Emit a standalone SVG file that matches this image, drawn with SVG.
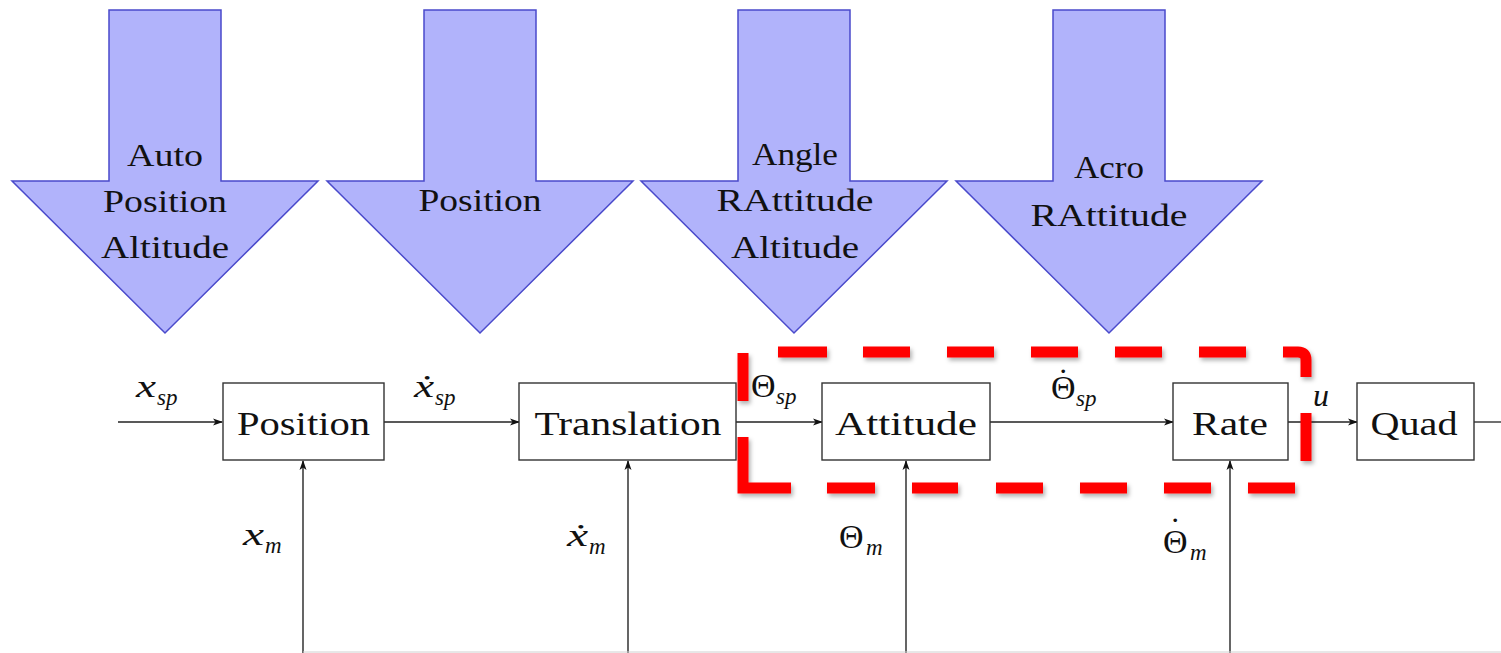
<svg xmlns="http://www.w3.org/2000/svg" width="1501" height="653" viewBox="0 0 1501 653">
<style>
.mode{fill:#b1b3fb;stroke:#4a4acb;stroke-width:1.5}
.mt{font-family:"Liberation Serif","Times New Roman",serif;font-size:31px;fill:#111;text-anchor:middle}
.box{fill:#fff;stroke:#333;stroke-width:1.4}
.bt{font-family:"Liberation Serif","Times New Roman",serif;font-size:34px;fill:#111;text-anchor:middle}
.conn{stroke:#222;stroke-width:1.3;fill:none}
.fb{stroke:#555;stroke-width:1.8;fill:none}
.mi{font-family:"Liberation Serif","Times New Roman",serif;font-style:italic;font-size:32px;fill:#111}
.mu{font-family:"Liberation Serif","Times New Roman",serif;font-size:34px;fill:#111}
.sub{font-family:"Liberation Serif","Times New Roman",serif;font-style:italic;font-size:23px;fill:#111}
.dash{stroke:#ff0000;stroke-width:11;fill:none;stroke-linecap:butt}
</style>
<defs>
<marker id="ah" markerWidth="10" markerHeight="8" refX="9" refY="4" orient="auto" markerUnits="userSpaceOnUse">
<path d="M0,0.5 L10,4 L0,7.5 L2.5,4 Z" fill="#111"/>
</marker>
<filter id="sh" x="-10%" y="-10%" width="120%" height="130%">
<feDropShadow dx="2" dy="3" stdDeviation="2" flood-color="#000" flood-opacity="0.3"/>
</filter>
</defs>

<g id="mode-auto">
<polygon class="mode" points="109,10 221,10 221,181 318,181 165,333 12,181 109,181"/>
<text class="mt" x="165" y="166" textLength="76" lengthAdjust="spacingAndGlyphs">Auto</text>
<text class="mt" x="165" y="212" textLength="124" lengthAdjust="spacingAndGlyphs">Position</text>
<text class="mt" x="165" y="258" textLength="128" lengthAdjust="spacingAndGlyphs">Altitude</text>
</g>
<g id="mode-position">
<polygon class="mode" points="424,10 536,10 536,181 633,181 480,333 327,181 424,181"/>
<text class="mt" x="480" y="211" textLength="123" lengthAdjust="spacingAndGlyphs">Position</text>
</g>
<g id="mode-angle">
<polygon class="mode" points="738,10 850,10 850,181 947,181 794,333 641,181 738,181"/>
<text class="mt" x="795" y="165" textLength="86" lengthAdjust="spacingAndGlyphs">Angle</text>
<text class="mt" x="795" y="211" textLength="157" lengthAdjust="spacingAndGlyphs">RAttitude</text>
<text class="mt" x="795" y="258" textLength="128" lengthAdjust="spacingAndGlyphs">Altitude</text>
</g>
<g id="mode-acro">
<polygon class="mode" points="1053,10 1165,10 1165,181 1262,181 1109,333 956,181 1053,181"/>
<text class="mt" x="1109" y="178" textLength="70" lengthAdjust="spacingAndGlyphs">Acro</text>
<text class="mt" x="1109" y="226" textLength="157" lengthAdjust="spacingAndGlyphs">RAttitude</text>
</g>

<g id="connectors">
<line class="conn" x1="118" y1="422" x2="222" y2="422" marker-end="url(#ah)"/>
<line class="conn" x1="384" y1="422" x2="519" y2="422" marker-end="url(#ah)"/>
<line class="conn" x1="736" y1="422" x2="822" y2="422" marker-end="url(#ah)"/>
<line class="conn" x1="990" y1="422" x2="1173" y2="422" marker-end="url(#ah)"/>
<line class="conn" x1="1288" y1="422" x2="1357" y2="422" marker-end="url(#ah)"/>
<line class="conn" x1="1474" y1="422" x2="1501" y2="422"/>
<line class="fb" x1="303" y1="653" x2="303" y2="461" marker-end="url(#ah)"/>
<line class="fb" x1="628" y1="653" x2="628" y2="461" marker-end="url(#ah)"/>
<line class="fb" x1="906" y1="653" x2="906" y2="461" marker-end="url(#ah)"/>
<line class="fb" x1="1230" y1="653" x2="1230" y2="461" marker-end="url(#ah)"/>
<line x1="303" y1="652" x2="1501" y2="652" stroke="#d0d0d0" stroke-width="1"/>
</g>

<g id="labels">
<text class="mi" x="136" y="397" textLength="20" lengthAdjust="spacingAndGlyphs">x</text>
<text class="sub" x="157" y="405">sp</text>
<text class="mi" x="414" y="397" textLength="20" lengthAdjust="spacingAndGlyphs">ẋ</text>
<text class="sub" x="435" y="405">sp</text>
<text class="mu" x="751" y="397">Θ</text>
<text class="sub" x="776" y="404">sp</text>
<text class="mu" x="1051" y="399">Θ<tspan dx="-18" dy="-7">˙</tspan></text>
<text class="sub" x="1076" y="406">sp</text>
<text class="mi" x="1313" y="406">u</text>
<text class="mi" x="243" y="545" textLength="21" lengthAdjust="spacingAndGlyphs">x</text>
<text class="sub" x="265" y="553">m</text>
<text class="mi" x="567" y="546" textLength="21" lengthAdjust="spacingAndGlyphs">ẋ</text>
<text class="sub" x="589" y="554">m</text>
<text class="mu" x="839" y="548">Θ</text>
<text class="sub" x="866" y="555">m</text>
<text class="mu" x="1163" y="553">Θ<tspan dx="-18" dy="-12">˙</tspan></text>
<text class="sub" x="1190" y="560">m</text>
</g>

<g id="node-position">
<rect class="box" x="223" y="383" width="161" height="77"/>
<text class="bt" x="303.5" y="435" textLength="133" lengthAdjust="spacingAndGlyphs">Position</text>
</g>
<g id="node-translation">
<rect class="box" x="519" y="383" width="217" height="77"/>
<text class="bt" x="628" y="435" textLength="187" lengthAdjust="spacingAndGlyphs">Translation</text>
</g>
<g id="node-attitude">
<rect class="box" x="822" y="383" width="168" height="77"/>
<text class="bt" x="906" y="435" textLength="142" lengthAdjust="spacingAndGlyphs">Attitude</text>
</g>
<g id="node-rate">
<rect class="box" x="1173" y="383" width="115" height="77"/>
<text class="bt" x="1230" y="435" textLength="76" lengthAdjust="spacingAndGlyphs">Rate</text>
</g>
<g id="node-quad">
<rect class="box" x="1357" y="383" width="117" height="77"/>
<text class="bt" x="1414" y="435" textLength="87" lengthAdjust="spacingAndGlyphs">Quad</text>
</g>

<g id="highlight" filter="url(#sh)">
<path class="dash" d="M743,353 V401 M743,437 V488 H791 M827,488 H875 M912,488 H958 M996,488 H1043 M1080,488 H1127 M1164,488 H1211 M1248,488 H1295 M1306,413 V461 M1283,352 H1298 Q1306,352 1306,360 V377 M778,352 H827 M863,352 H910 M947,352 H994 M1031,352 H1078 M1115,352 H1162 M1199,352 H1246"/>
</g>
</svg>
